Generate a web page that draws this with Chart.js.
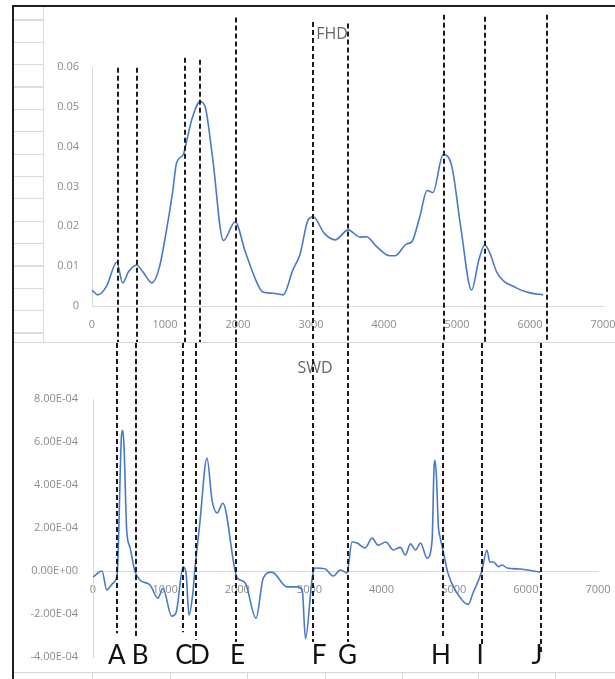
<!DOCTYPE html>
<html><head><meta charset="utf-8">
<script src="https://cdn.jsdelivr.net/npm/chart.js@4"></script>
<style>
html,body{margin:0;padding:0;background:#fff;}
body{width:615px;height:679px;overflow:hidden;position:relative;}
#frame{position:absolute;left:12px;top:5px;width:610px;height:680px;border-top:2px solid #1e1e1e;border-left:2px solid #1e1e1e;}
#strip{position:absolute;left:14px;top:7px;width:29px;height:335px;border-right:1px solid #dadada;
 background:repeating-linear-gradient(to bottom,transparent 0px,transparent 12.4px,#dcdcdc 12.4px,#dcdcdc 13.6px,transparent 13.6px,transparent 22.36px);
 background-position:0 0;}
.hl{position:absolute;left:14px;width:601px;height:1px;background:#d6d6d6;}
.vt{position:absolute;width:1px;background:#d6d6d6;}
canvas{position:absolute;}
</style></head><body>
<div id="frame"></div>
<div id="strip"></div>
<div class="hl" style="top:342px"></div>
<div class="hl" style="top:672px"></div>
<div class="vt" style="left:92px;top:673px;height:6px"></div>
<div class="vt" style="left:170px;top:673px;height:6px"></div>
<div class="vt" style="left:247px;top:673px;height:6px"></div>
<div class="vt" style="left:325px;top:673px;height:6px"></div>
<div class="vt" style="left:402px;top:673px;height:6px"></div>
<div class="vt" style="left:478px;top:673px;height:6px"></div>
<div class="vt" style="left:555px;top:673px;height:6px"></div>
<canvas id="top" width="572" height="334" style="left:43px;top:8px"></canvas>
<canvas id="bot" width="601" height="329" style="left:14px;top:343px"></canvas>
<script>
// ---------- data ----------
const xTicks = [0,1000,2000,3000,4000,5000,6000,7000];
const xTickLabels = ['0','1000','2000','3000','4000','5000','6000','7000'];

const fhdYTicks = [0,0.01,0.02,0.03,0.04,0.05,0.06];
const fhdYTickLabels = ['0','0.01','0.02','0.03','0.04','0.05','0.06'];
const fhdX = [0,80,200,340,420,500,610,700,820,920,1020,1100,1160,1250,1300,1370,1480,1550,1650,1800,1960,2100,2260,2340,2480,2620,2750,2850,2960,3030,3180,3330,3510,3670,3760,3900,4080,4150,4310,4380,4490,4590,4670,4810,4930,5050,5200,5300,5380,5450,5550,5820,6000,6180];
const fhdY = [0.0040,0.0028,0.0050,0.0110,0.0058,0.0086,0.0103,0.0085,0.0058,0.0095,0.0190,0.0280,0.0360,0.0380,0.0417,0.0470,0.0513,0.0500,0.0375,0.0164,0.0211,0.0136,0.0058,0.0035,0.0032,0.0028,0.0090,0.0130,0.0216,0.0224,0.0183,0.0166,0.0191,0.0173,0.0174,0.0149,0.0126,0.0126,0.0156,0.0161,0.0224,0.0290,0.0285,0.0380,0.0350,0.0200,0.0040,0.0116,0.0153,0.0133,0.0083,0.0045,0.0033,0.0028];

const swdYTicks = [-4e-4,-2e-4,0,2e-4,4e-4,6e-4,8e-4];
const swdYTickLabels = ['-4.00E-04','-2.00E-04','0.00E+00','2.00E-04','4.00E-04','6.00E-04','8.00E-04'];
const swdX = [0,125,190,280,335,395,412,430,467,513,580,650,790,900,970,1090,1150,1250,1290,1330,1385,1410,1480,1580,1650,1720,1800,1970,2000,2110,2260,2360,2480,2690,2830,2900,2945,3040,3080,3220,3330,3430,3520,3590,3660,3770,3870,3950,4060,4160,4260,4330,4400,4470,4540,4630,4700,4728,4740,4762,4787,4810,4850,4920,5020,5200,5270,5390,5460,5500,5550,5620,5670,5740,5920,6200];
const swdY = [-2.8e-5,0,-8.8e-5,-5.6e-5,-1.5e-5,6.3e-4,6.55e-4,5.8e-4,1.9e-4,1.1e-4,0,-4.2e-5,-6.5e-5,-1.26e-4,-8e-5,-2.1e-4,-1.95e-4,1.9e-5,-1e-5,-2.05e-4,-1e-4,0,2.2e-4,5.25e-4,3.3e-4,2.7e-4,3.15e-4,0,-3.3e-5,-5.6e-5,-2.2e-4,-3.3e-5,-5e-6,-7.4e-5,-7.4e-5,-8.8e-5,-3.15e-4,-2.8e-5,1.4e-5,9e-6,-2.3e-5,5e-6,-9e-6,1.35e-4,1.3e-4,1.07e-4,1.53e-4,1.2e-4,1.35e-4,9.8e-5,1.1e-4,7.4e-5,1.26e-4,9.8e-5,1.3e-4,6e-5,1.4e-4,4.9e-4,5.15e-4,4.3e-4,2.1e-4,1.6e-4,9.8e-5,-1e-5,-8.8e-5,-1.55e-4,-1e-4,0,9.8e-5,4.2e-5,4.2e-5,2e-5,2.8e-5,1.4e-5,9e-6,-5e-6];

const markLetters = ['A','B','C','D','E','F','G','H','I','J'];
const markTopX = [356,616,1274,1479,1973,3027,3507,4822,5384,6233];
const markTopStart = [0.0598,0.0598,0.0623,0.0618,0.0724,0.0713,0.0709,0.0731,0.0726,0.0731];
const markBotX = [333,596,1248,1428,1982,3049,3535,4852,5392,6210];
const markBotEnd = [-2.9e-4,-3.05e-4,-2.85e-4,-3.2e-4,-3.3e-4,-3.3e-4,-3.3e-4,-3.05e-4,-3.5e-4,-3.8e-4];
const letterX = [329,652,1261,1483,2003,3133,3528,4824,5365,6155];
const letterY = -4.32e-4;

const titles = {fhd:{text:'FHD', x:3288, y:0.0681}, swd:{text:'SWD', x:3077, y:9.44e-4}};

// ---------- helpers ----------
const LINE = '#4a78c8';
const AXIS = '#d9d9d9';
const TICKC = '#8c8c8c';
const tickFont = {family:'Open Sans', size:11};

const overlay = {
  id:'overlay',
  afterDraw(chart, args, o){
    const ctx = chart.ctx, xs = chart.scales.x, ys = chart.scales.y;
    ctx.save();
    ctx.fillStyle = '#666';
    ctx.font = '16px "Open Sans"';
    ctx.textAlign = 'center'; ctx.textBaseline = 'middle';
    ctx.fillText(o.title.text, xs.getPixelForValue(o.title.x), ys.getPixelForValue(o.title.y));
    ctx.strokeStyle = '#1c1c1c'; ctx.lineWidth = 2; ctx.setLineDash([5,3]);
    o.xs.forEach((xv,i)=>{
      const px = Math.round(xs.getPixelForValue(xv));
      const y0 = o.y0 ? ys.getPixelForValue(o.y0[i]) : 0;
      const y1 = o.y1 ? ys.getPixelForValue(o.y1[i]) : chart.height;
      ctx.beginPath(); ctx.moveTo(px, y0); ctx.lineTo(px, y1); ctx.stroke();
    });
    if (o.letters){
      ctx.setLineDash([]);
      ctx.fillStyle = '#111';
      ctx.font = '26px Lato';
      ctx.textAlign = 'center'; ctx.textBaseline = 'alphabetic';
      o.letters.forEach((t,i)=>{
        ctx.fillText(t, xs.getPixelForValue(o.letterX[i]), ys.getPixelForValue(o.letterY));
      });
    }
    ctx.restore();
  }
};

function xScale(extra){
  return Object.assign({
    type:'linear', min:0, max:7000,
    grid:{display:false, drawTicks:false},
    border:{display:true, color:AXIS, width:1},
    afterBuildTicks:s=>{ s.ticks = xTicks.map(v=>({value:v})); },
    ticks:{autoSkip:false, maxRotation:0, padding:12, color:TICKC, font:tickFont,
      callback:(v,i)=>xTickLabels[i]},
    afterFit:s=>{ s.paddingLeft=0; s.paddingRight=0; }
  }, extra);
}

// ---------- top chart ----------
new Chart(document.getElementById('top'), {
  type:'line',
  data:{datasets:[{data:fhdX.map((x,i)=>({x, y:fhdY[i]})), borderColor:LINE, borderWidth:1.6,
    pointRadius:0, tension:0.4, cubicInterpolationMode:'monotone', fill:false}]},
  options:{
    responsive:false, animation:false, devicePixelRatio:1,
    layout:{padding:{left:0,right:12,top:59,bottom:0}},
    plugins:{legend:{display:false}, tooltip:{enabled:false}, title:{display:false},
      overlay:{title:titles.fhd, xs:markTopX, y0:markTopStart, y1:null}},
    scales:{
      x: xScale({position:'bottom', afterFit:s=>{ s.height=36; s.paddingLeft=0; s.paddingRight=0; }}),
      y:{type:'linear', min:0, max:0.06,
        grid:{display:false, drawTicks:false},
        border:{display:true, color:AXIS, width:1},
        afterBuildTicks:s=>{ s.ticks = fhdYTicks.map(v=>({value:v})); },
        ticks:{padding:13, color:TICKC, font:tickFont, callback:(v,i)=>fhdYTickLabels[i]},
        afterFit:s=>{ s.width=49; s.paddingTop=0; s.paddingBottom=0; }}
    }
  },
  plugins:[overlay]
});

// ---------- bottom chart ----------
new Chart(document.getElementById('bot'), {
  type:'line',
  data:{datasets:[{data:swdX.map((x,i)=>({x, y:swdY[i]})), borderColor:LINE, borderWidth:1.6,
    pointRadius:0, tension:0.4, cubicInterpolationMode:'monotone', fill:false}]},
  options:{
    responsive:false, animation:false, devicePixelRatio:1,
    layout:{padding:{left:0,right:17,top:56,bottom:15}},
    plugins:{legend:{display:false}, tooltip:{enabled:false}, title:{display:false},
      overlay:{title:titles.swd, xs:markBotX, y0:null, y1:markBotEnd,
        letters:markLetters, letterX:letterX, letterY:letterY}},
    scales:{
      x: xScale({position:{y:0}}),
      y:{type:'linear', min:-4e-4, max:8e-4,
        grid:{display:false, drawTicks:false},
        border:{display:true, color:AXIS, width:1},
        afterBuildTicks:s=>{ s.ticks = swdYTicks.map(v=>({value:v})); },
        ticks:{padding:15, color:TICKC, font:tickFont, callback:(v,i)=>swdYTickLabels[i]},
        afterFit:s=>{ s.width=79; s.paddingTop=0; s.paddingBottom=0; }}
    }
  },
  plugins:[overlay]
});
</script>
</body></html>
